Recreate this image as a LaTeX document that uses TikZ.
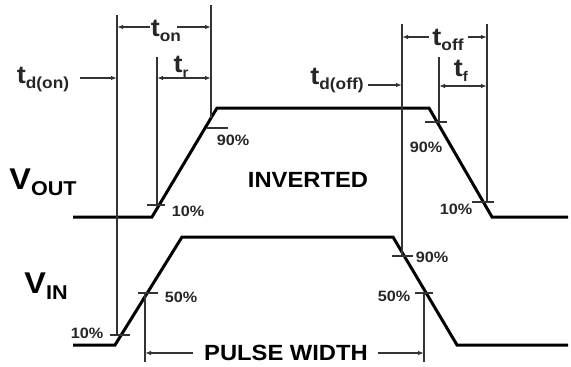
\documentclass[tikz,border=0pt]{standalone}
\usepackage{fontspec}
\setmainfont{Liberation Sans}
\newfontfamily\hb[FakeStretch=1.08]{Liberation Sans}
\usetikzlibrary{arrows.meta}
\begin{document}
\begin{tikzpicture}[x=1pt,y=-1pt,
  wave/.style={line width=3pt,line join=miter,black},
  guide/.style={line width=1.5pt,black!80},
  tick/.style={line width=1.2pt,black!80},
  arr/.style={line width=1.2pt,black!80,-{Latex[length=6pt,width=4.5pt]}},
  darr/.style={line width=1.2pt,black!80,{Latex[length=6pt,width=4.5pt]}-{Latex[length=6pt,width=4.5pt]}},
  pct/.style={inner sep=0pt,font=\hb\bfseries\fontsize{15}{16}\selectfont,text=black!85},
  big/.style={inner sep=0pt,font=\hb\bfseries\fontsize{22}{24}\selectfont},
  tl/.style={inner sep=0pt,font=\hb\bfseries\fontsize{25}{26}\selectfont,text=black!85},
]
\useasboundingbox (0,0) rectangle (571,367);
% waveforms
\draw[wave] (73,217) -- (152,217) -- (217,108) -- (429,108) -- (492,217) -- (568,217);
\draw[wave] (73,345) -- (115,345) -- (182,237) -- (393,237) -- (457,345) -- (568,345);
% guide lines
\coordinate (A1) at (117,15);  \coordinate (A2) at (117,335);
\coordinate (B1) at (157,57);  \coordinate (B2) at (157,205);
\coordinate (C1) at (211,5);   \coordinate (C2) at (211,118);
\coordinate (D1) at (402,24);  \coordinate (D2) at (402,256);
\coordinate (E1) at (439,57);  \coordinate (E2) at (439,122);
\coordinate (F1) at (487,24);  \coordinate (F2) at (487,202);
\coordinate (G1) at (145,293); \coordinate (G2) at (145,362);
\coordinate (H1) at (424,293); \coordinate (H2) at (424,362);
\foreach \p in {A,B,C,D,E,F,G,H} \draw[guide] (\p1) -- (\p2);
% ticks
\draw[tick] (147,205) -- (165,205);
\draw[tick] (207,128) -- (228,128);
\draw[tick] (425,122) -- (447,122);
\draw[tick] (472,202) -- (494,202);
\draw[tick] (110,335) -- (130,335);
\draw[tick] (138,293) -- (158,293);
\draw[tick] (392,256) -- (413,256);
\draw[tick] (415,293) -- (433,293);
% percentage labels
\node[pct] (p1) at (188,211) {10\%};
\node[pct] (p2) at (233,140) {90\%};
\node[pct] (p3) at (426,147) {90\%};
\node[pct] (p4) at (456,209) {10\%};
\node[pct] (p5) at (87,333) {10\%};
\node[pct] (p6) at (181,297) {50\%};
\node[pct] (p7) at (432,257) {90\%};
\node[pct] (p8) at (394,296) {50\%};
% time labels
\node[tl] (ton) at (166,31) {t\raisebox{-5pt}{\fontsize{16}{17}\selectfont on}};
\node[tl] (tr) at (181,67) {t\raisebox{-5pt}{\fontsize{14}{15}\selectfont r}};
\node[tl] (toff) at (448,40) {t\raisebox{-5pt}{\fontsize{16}{17}\selectfont off}};
\node[tl] (tf) at (461,71) {t\raisebox{-5pt}{\fontsize{14}{15}\selectfont f}};
\node[tl] (tdon) at (43,80) {t\raisebox{-5pt}{\fontsize{16}{17}\selectfont d(on)}};
\node[tl] (tdoff) at (337,81) {t\raisebox{-5pt}{\fontsize{16}{17}\selectfont d(off)}};
\coordinate (ton1) at (150,27); \coordinate (ton2) at (177,27);
\draw[arr] (ton1) -- (A1 |- ton1);
\draw[arr] (ton2) -- (C1 |- ton2);
\coordinate (tr1) at (157,78); \coordinate (tr2) at (211,78);
\draw[darr] (tr1) -- (tr2);
\coordinate (toff1) at (429,37); \coordinate (toff2) at (468,37);
\draw[arr] (toff1) -- (D1 |- toff1);
\draw[arr] (toff2) -- (F1 |- toff2);
\coordinate (tf1) at (439,86); \coordinate (tf2) at (487,86);
\draw[darr] (tf1) -- (tf2);
\coordinate (tdon1) at (80,78);
\draw[arr] (tdon1) -- (A1 |- tdon1);
\coordinate (tdoff1) at (368,85);
\draw[arr] (tdoff1) -- (D1 |- tdoff1);
% signal names
\node[big] (vout) at (43,182) {\fontsize{30}{30}\selectfont V\raisebox{-6pt}{\fontsize{20}{20}\selectfont OUT}};
\node[big] (vin) at (46,286) {\fontsize{30}{30}\selectfont V\raisebox{-6pt}{\fontsize{20}{20}\selectfont IN}};
\node[big] (inv) at (308,180) {INVERTED};
\node[big] (pw) at (286,353) {PULSE WIDTH};
\coordinate (pw1) at (193,353); \coordinate (pw2) at (378,353);
\draw[arr] (pw1) -- (G1 |- pw1);
\draw[arr] (pw2) -- (H1 |- pw2);
\end{tikzpicture}
\end{document}
